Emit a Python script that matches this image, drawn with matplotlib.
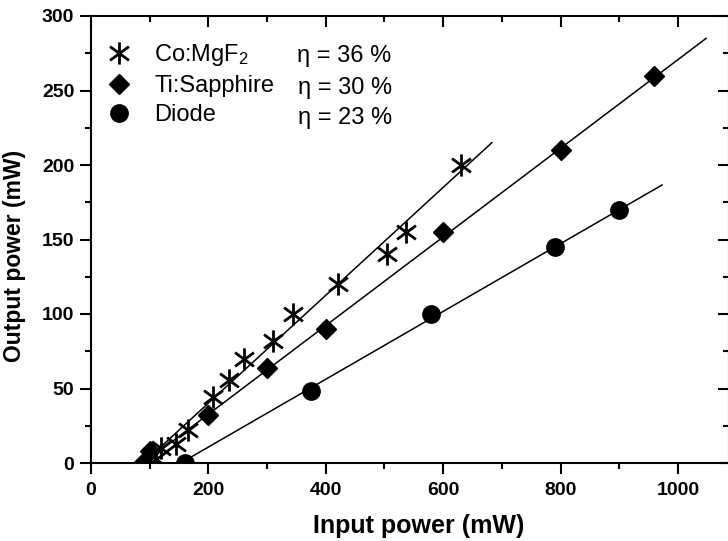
import numpy as np
import matplotlib
matplotlib.use("Agg")
import matplotlib.pyplot as plt
from matplotlib.path import Path

plt.rcParams['font.family'] = ['Liberation Sans', 'DejaVu Sans']
plt.rcParams['mathtext.default'] = 'regular'

# data (input power mW, output power mW)
co_x = [110, 120, 145, 165, 208, 235, 260, 310, 345, 420, 505, 537, 630]
co_y = [3, 10, 13, 22, 44, 56, 70, 82, 100, 120, 140, 155, 200]
ti_x = [88, 100, 200, 300, 400, 600, 800, 960]
ti_y = [0, 8, 32, 64, 90, 155, 210, 260]
di_x = [160, 375, 580, 790, 900]
di_y = [0, 48, 100, 145, 170]

# linear fits: (start x, start y), (end x, end y)
co_fit_x = [89, 683]
co_fit_y = [0, 215]
ti_fit_x = [90, 1048]
ti_fit_y = [0, 285]
di_fit_x = [153, 973]
di_fit_y = [0, 186.6]

labels = ['Co:MgF$_2$', 'Ti:Sapphire', 'Diode']
etas = ['\u03b7 = 36 %', '\u03b7 = 30 %', '\u03b7 = 23 %']

# asterisk: vertical bar plus an X
star = Path([(0, -1), (0, 1), (-0.85, -0.62), (0.85, 0.62), (-0.85, 0.62), (0.85, -0.62)],
            [Path.MOVETO, Path.LINETO, Path.MOVETO, Path.LINETO, Path.MOVETO, Path.LINETO])

W, H = 728, 541
fig = plt.figure(figsize=(W / 100, H / 100), dpi=100)
x_left, x_right, y_top, y_bot = 91, 729, 16, 463
ax = fig.add_axes([x_left / W, (H - y_bot) / H, (x_right - x_left) / W, (y_bot - y_top) / H])

lw_fit = 1.1
ax.plot(co_fit_x, co_fit_y, color='black', lw=lw_fit, zorder=2)
ax.plot(ti_fit_x, ti_fit_y, color='black', lw=lw_fit, zorder=2)
ax.plot(di_fit_x, di_fit_y, color='black', lw=lw_fit, zorder=2)

ax.plot(co_x, co_y, linestyle='none', marker=star, markersize=16, markeredgewidth=2,
        color='black', label=labels[0], zorder=3)
ax.plot(ti_x, ti_y, linestyle='none', marker='D', markersize=10.5, color='black',
        label=labels[1], zorder=3)
ax.plot(di_x, di_y, linestyle='none', marker='o', markersize=12.5, color='black',
        label=labels[2], zorder=3)

ax.set_xlim(0, 1087)
ax.set_ylim(0, 300)
ax.set_xticks(np.arange(0, 1001, 200))
ax.set_xticks(np.arange(100, 1001, 200), minor=True)
ax.set_yticks(np.arange(0, 301, 50))
ax.set_yticks(np.arange(25, 300, 50), minor=True)

for s in ax.spines.values():
    s.set_linewidth(1.5)

ax.tick_params(axis='both', which='major', direction='out', length=8, width=1.5,
               labelsize=14, pad=4)
ax.tick_params(axis='both', which='minor', direction='out', length=4, width=1.5)
ax.tick_params(axis='x', which='major', pad=6)
# inward ticks on the top and right
ax.tick_params(axis='both', which='both', top=True, right=True)
for t in ax.xaxis.get_major_ticks() + ax.xaxis.get_minor_ticks():
    t.tick2line.set_marker(matplotlib.lines.TICKDOWN)
for t in ax.yaxis.get_major_ticks() + ax.yaxis.get_minor_ticks():
    t.tick2line.set_marker(matplotlib.lines.TICKLEFT)
for lab in ax.get_xticklabels() + ax.get_yticklabels():
    lab.set_fontweight('bold')

fig.text(419 / W, (H - 533) / H, 'Input power (mW)', ha='center', va='baseline',
         fontsize=18, fontweight='bold')
fig.text(21.5 / W, (H - 256) / H, 'Output power (mW)', ha='center', va='baseline',
         rotation=90, rotation_mode='anchor', fontsize=16.5, fontweight='bold')

leg = ax.legend(loc='upper left', bbox_to_anchor=(0.025, 0.942), frameon=False,
                fontsize=17, handlelength=1.0, handletextpad=1.0, labelspacing=0.3,
                borderpad=0, borderaxespad=0, numpoints=1)

eta_y = [56, 88, 118]
eta_x = [297, 298, 298]
for xe, ye, txt in zip(eta_x, eta_y, etas):
    ax.text((xe - x_left) / (x_right - x_left), (y_bot - ye) / (y_bot - y_top), txt,
            transform=ax.transAxes, ha='left', va='center', fontsize=17)

fig.savefig('out.png', dpi=100)
